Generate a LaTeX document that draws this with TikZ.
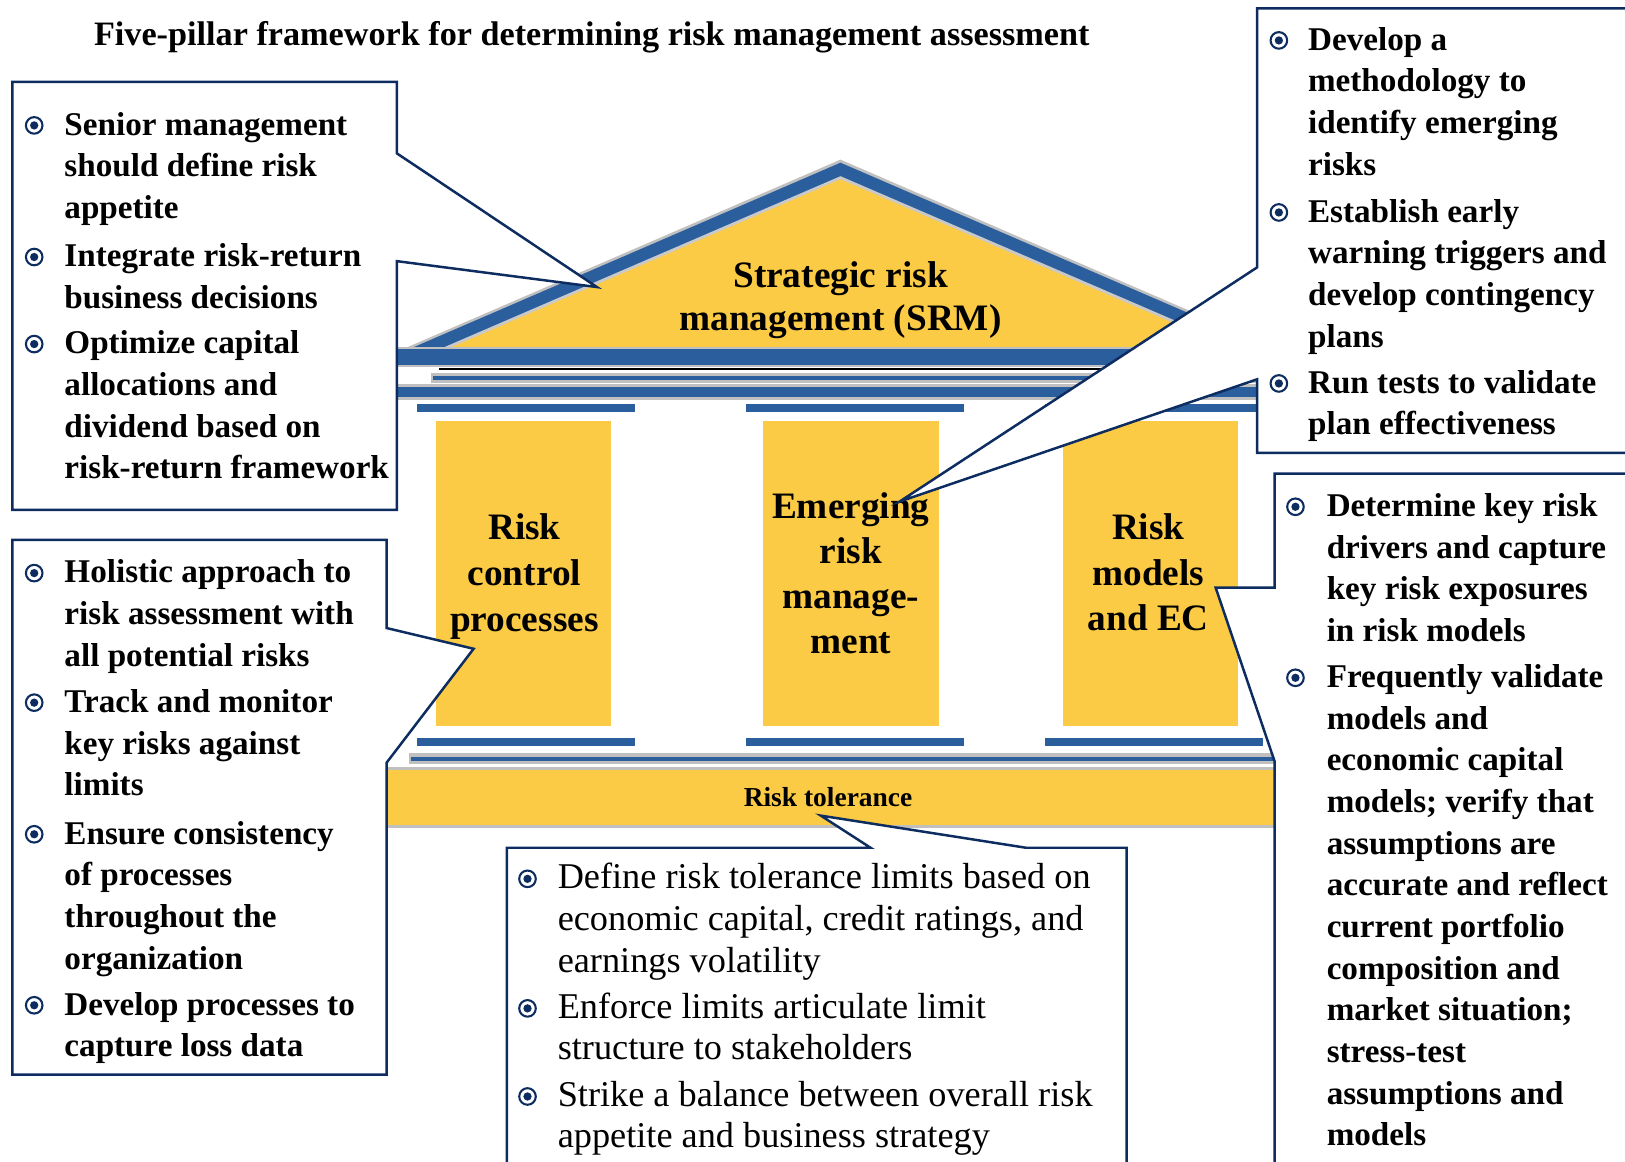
\documentclass[tikz,border=0pt]{standalone}
\usepackage{fontspec}
\setmainfont{Liberation Serif}

\definecolor{pillaryellow}{RGB}{252,203,69}
\definecolor{roofblue}{RGB}{43,94,157}
\definecolor{navy}{RGB}{13,44,96}
\definecolor{rimgrey}{RGB}{192,192,192}

% a stack of text lines: name, style, x, first baseline, line spacing, lines
\newcommand\textstack[6]{%
  \foreach \ltxt [count=\k] in {#6}{%
    \node[#2] (#1-\k) at (#3,{#4+(\k-1)*#5}) {\ltxt};}}
% one bulleted item: [line style], name, bullet x, text x, first baseline, lines
\newcommand\bitem[6][bodyline]{%
  \node[bulletring] (#2) at (#3,#5-8) {};
  \textstack{#2}{#1}{#4}{#5+1.5}{40.2}{#6}}

\begin{document}
\begin{tikzpicture}[x=1pt,y=-1pt,
  boxline/.style={draw=navy, line width=2.4pt, fill=white, line join=miter},
  bulletring/.style={circle, draw=navy, line width=2pt, minimum size=16pt,
    inner sep=0pt, path picture={\fill[navy] (path picture bounding box.center) circle (4pt);}},
  bodyline/.style={anchor=base west, inner sep=0pt, font=\bfseries\fontsize{32}{40}\selectfont},
  plainline/.style={anchor=base west, inner sep=0pt, font=\fontsize{35}{40}\selectfont},
  pillarline/.style={anchor=base, inner sep=0pt, font=\bfseries\fontsize{36}{44}\selectfont},
]
\useasboundingbox (0,0) rectangle (1568,1121);
\clip (0,0) rectangle (1568,1121);

% ---- title
\node[anchor=base, inner sep=0pt, font=\bfseries\fontsize{33}{40}\selectfont] (title) at (571,44)
  {Five-pillar framework for determining risk management assessment};

% ---- roof
\fill[rimgrey] (811,154) -- (370,345) -- (1252,345) -- cycle;
\fill[roofblue] (811,157) -- (376,345) -- (1246,345) -- cycle;
\fill[rimgrey!85] (811,170) -- (424,337) -- (1198,337) -- cycle;
\fill[pillaryellow] (811,173) -- (431,337) -- (1191,337) -- cycle;

% ---- entablature
\fill[rimgrey] (370,335) rectangle (1250,354);
\fill[roofblue] (370,337) rectangle (1250,352);
\draw[black, line width=2pt] (424,356.5) -- (1250,356.5);
\fill[rimgrey] (416,360) rectangle (1250,370);
\fill[roofblue] (418,363) rectangle (1250,367);
\fill[rimgrey] (370,371) rectangle (1250,386);
\fill[roofblue] (370,373) rectangle (1250,383.5);

% ---- pillars with capitals and bases
\foreach \xa/\xb in {402/613, 720/930, 1008/1219}{
  \fill[roofblue] (\xa,390) rectangle (\xb,398);
  \fill[roofblue] (\xa,712) rectangle (\xb,720);}
\foreach \xa/\xb in {421/590, 736/906, 1026/1195}
  \fill[pillaryellow] (\xa,406) rectangle (\xb,701);

% ---- foundation
\fill[rimgrey] (395,727) rectangle (1240,737);
\fill[roofblue] (397,730) rectangle (1240,734);
\fill[rimgrey] (370,740) rectangle (1240,799);
\fill[pillaryellow] (370,743) rectangle (1240,796);

% ---- labels on the building
\textstack{srm}{pillarline}{811}{277}{42}{Strategic risk, management (SRM)}
\textstack{rcp}{pillarline}{506}{521}{44}{Risk, control, processes}
\textstack{erm}{pillarline}{821}{500}{43.5}{Emerging, risk, manage-, ment}
\textstack{rme}{pillarline}{1108}{521}{43.5}{Risk, models, and EC}
\node[anchor=base, inner sep=0pt, font=\bfseries\fontsize{26.5}{30}\selectfont] (tol) at (799,778) {Risk tolerance};

% ---- callouts
\draw[boxline] (12,79) -- (383,79) -- (383,148) -- (576,277) -- (383,252)
  -- (383,492) -- (12,492) -- cycle;
\draw[boxline] (1213,8) -- (1580,8) -- (1580,437) -- (1213,437) -- (1213,366)
  -- (868,484) -- (1213,258) -- cycle;
\draw[boxline] (12,521) -- (373,521) -- (373,606) -- (457,626) -- (373,736)
  -- (373,1037) -- (12,1037) -- cycle;
\draw[boxline] (1230,457) -- (1580,457) -- (1580,1140) -- (1230,1140) -- (1230,735)
  -- (1173,567) -- (1230,567) -- cycle;
\draw[boxline] (489,818) -- (840,818) -- (792,787) -- (990,818) -- (1087,818)
  -- (1087,1140) -- (489,1140) -- cycle;

% ---- callout texts
\bitem{a1}{33}{62}{129}{Senior management, should define risk, appetite}
\bitem{a2}{33}{62}{256}{Integrate risk-return, business decisions}
\bitem{a3}{33}{62}{340}{Optimize capital, allocations and, dividend based on, risk-return framework}

\bitem{b1}{1234}{1262}{47}{Develop a, methodology to, identify emerging, risks}
\bitem{b2}{1234}{1262}{213}{Establish early, warning triggers and, develop contingency, plans}
\bitem{b3}{1234}{1262}{378}{Run tests to validate, plan effectiveness}

\bitem{c1}{33}{62}{561}{Holistic approach to, risk assessment with, all potential risks}
\bitem{c2}{33}{62}{686}{Track and monitor, key risks against, limits}
\bitem{c3}{33}{62}{813}{Ensure consistency, of processes, throughout the, organization}
\bitem{c4}{33}{62}{978}{Develop processes to, capture loss data}

\bitem{d1}{1250}{1280}{497}{Determine key risk, drivers and capture, key risk exposures, in risk models}
\bitem{d2}{1250}{1280}{662}{Frequently validate, models and, economic capital,
  models; verify that, assumptions are, accurate and reflect, current portfolio,
  composition and, market situation;, stress-test, assumptions and, models}

\bitem[plainline]{e1}{509}{538}{856}{Define risk tolerance limits based on,
  {economic capital, credit ratings, and}, earnings volatility}
\bitem[plainline]{e2}{509}{538}{981}{Enforce limits articulate limit, structure to stakeholders}
\bitem[plainline]{e3}{509}{538}{1066}{Strike a balance between overall risk, appetite and business strategy}
\end{tikzpicture}
\end{document}
